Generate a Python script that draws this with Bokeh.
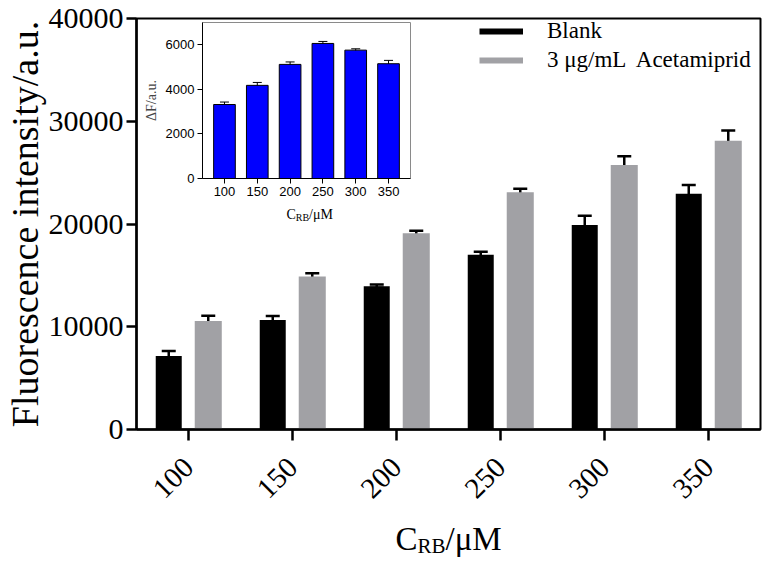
import math
from bokeh.plotting import figure
from bokeh.models import (ColumnDataSource, Range1d, FactorRange, FixedTicker, Whisker,
                          TeeHead, Legend, LegendItem, Label)
from bokeh.transform import dodge
from bokeh.layouts import column
from bokeh.embed import file_html
from bokeh.resources import INLINE

# ---------------- data ----------------
concentrations = ["100", "150", "200", "250", "300", "350"]
blank_mean = [7150, 10650, 13950, 17000, 19900, 22950]
blank_err = [480, 400, 150, 300, 900, 850]
acet_mean = [10550, 14900, 19100, 23100, 25750, 28100]
acet_err = [520, 300, 250, 320, 850, 1000]
delta_f = [3320, 4180, 5120, 6060, 5760, 5150]
delta_f_err = [110, 130, 110, 90, 60, 150]
y_ticks = [0, 10000, 20000, 30000, 40000]
inset_y_ticks = [0, 2000, 4000, 6000]
series_names = ["Blank", "3 \u03bcg/mL  Acetamiprid"]

SERIF = "Liberation Serif"
SANS = "Liberation Sans"
GREY = "#A1A1A5"

W, H = 762, 560
BL, BR = 133, 2          # left / right borders shared by all stacked figures

src = ColumnDataSource(dict(
    cat=concentrations,
    blank=blank_mean,
    blank_lo=[m - e for m, e in zip(blank_mean, blank_err)],
    blank_hi=[m + e for m, e in zip(blank_mean, blank_err)],
    acet=acet_mean,
    acet_lo=[m - e for m, e in zip(acet_mean, acet_err)],
    acet_hi=[m + e for m, e in zip(acet_mean, acet_err)],
))

# ---------------- main figure ----------------
p = figure(x_range=FactorRange(*concentrations), y_range=Range1d(0, 40000),
           width=W, height=H, output_backend="svg", toolbar_location=None,
           min_border_left=BL, min_border_right=BR, min_border_top=18, min_border_bottom=131)

p.vbar(x=dodge("cat", -0.19, range=p.x_range), top="blank", width=0.25, source=src,
       fill_color="black", line_color=None)
p.vbar(x=dodge("cat", 0.19, range=p.x_range), top="acet", width=0.26, source=src,
       fill_color=GREY, line_color=None)

for off, lo, hi in [(-0.19, "blank_lo", "blank_hi"), (0.19, "acet_lo", "acet_hi")]:
    w = Whisker(base=dodge("cat", off, range=p.x_range), lower=lo, upper=hi, source=src,
                line_color="black", line_width=2.5,
                upper_head=TeeHead(size=14, line_color="black", line_width=2.5),
                lower_head=TeeHead(size=14, line_color="black", line_width=2.5))
    p.add_layout(w)

# legend swatches: thick line glyphs (single point -> nothing drawn in the plot)
l1 = p.line(x=[concentrations[0]], y=[0], line_color="black", line_width=6)
l2 = p.line(x=[concentrations[0]], y=[0], line_color=GREY, line_width=6)
legend = Legend(items=[LegendItem(label=series_names[0], renderers=[l1]),
                       LegendItem(label=series_names[1], renderers=[l2])],
                location=(343, 356), glyph_width=44, glyph_height=24, label_height=24,
                label_standoff=24, spacing=3, padding=0, margin=0,
                border_line_color=None, background_fill_alpha=0,
                label_text_font=SERIF, label_text_font_size="23px", label_text_color="black")
p.add_layout(legend)

p.xgrid.visible = False
p.ygrid.visible = False
p.outline_line_color = "black"
p.outline_line_width = 2
p.outline_line_alpha = 1

for ax in (p.xaxis[0], p.yaxis[0]):
    ax.axis_line_width = 2.5
    ax.axis_line_color = "black"
    ax.major_tick_line_width = 2.5
    ax.major_tick_line_color = "black"
    ax.major_tick_in = 0
    ax.minor_tick_line_color = None
    ax.major_label_text_font = SERIF
    ax.major_label_text_color = "black"

p.xaxis.major_tick_out = 11
p.xaxis.major_label_text_font_size = "29px"
p.xaxis.major_label_orientation = math.pi / 4
p.xaxis.major_label_standoff = 22

p.yaxis.ticker = FixedTicker(ticks=y_ticks)
p.yaxis.major_tick_out = 10
p.yaxis.major_label_standoff = 3
p.yaxis.major_label_text_font_size = "30px"
p.yaxis.axis_label = "Fluorescence intensity/a.u."
p.yaxis.axis_label_text_font = SERIF
p.yaxis.axis_label_text_font_size = "38px"
p.yaxis.axis_label_text_font_style = "normal"
p.yaxis.axis_label_text_color = "black"
p.yaxis.axis_label_standoff = 0


def title_box(left, top, width, height, prev_bottom, parts):
    """A bare figure whose frame holds an axis title made of several text pieces."""
    f = figure(width=BL + width + BR, height=height, output_backend="svg",
               toolbar_location=None, x_axis_location=None, y_axis_location=None,
               min_border_left=BL, min_border_right=BR, min_border_top=0, min_border_bottom=0,
               margin=(top - prev_bottom, 0, 0, left - BL))
    f.border_fill_color = None
    f.background_fill_color = None
    f.outline_line_color = None
    f.xgrid.visible = False
    f.ygrid.visible = False
    for txt, x, y, fs in parts:
        f.add_layout(Label(x=x, y=y, x_units="screen", y_units="screen", text=txt,
                           text_font=SERIF, text_font_size=f"{fs}px", text_color="black",
                           text_baseline="alphabetic", text_align="left"))
    return f


# main x title "C_RB/μM"  (frame page x 385..525, y 512..562)
MT_TOP, MT_BOT = 512, 562
main_title = title_box(385, MT_TOP, 140, MT_BOT - MT_TOP, H,
                       [("C", 7, 24, 33), ("RB", 29, 17, 21), ("/\u03bcM", 57, 24, 33)])

# ---------------- inset ----------------
positions = list(range(1, len(concentrations) + 1))
isrc = ColumnDataSource(dict(
    x=positions, top=delta_f,
    lo=[m - e for m, e in zip(delta_f, delta_f_err)],
    hi=[m + e for m, e in zip(delta_f, delta_f_err)],
))

# inset frame wanted at page x 199..410, y 22..178
I_FL, I_FR, I_FT, I_FB = 199, 410, 22, 178
I_TOP, I_BOT = 19, 205
inset = figure(x_range=Range1d(positions[0] - 0.67, positions[-1] + 0.67),
               y_range=Range1d(0, 7000),
               width=BL + (I_FR - I_FL) + BR, height=I_BOT - I_TOP,
               output_backend="svg", toolbar_location=None,
               min_border_left=BL, min_border_right=BR,
               min_border_top=I_FT - I_TOP, min_border_bottom=I_BOT - I_FB,
               margin=(I_TOP - MT_BOT, 0, 0, I_FL - BL))
inset.border_fill_color = None
inset.background_fill_color = "white"
inset.vbar(x="x", top="top", width=0.66, source=isrc, fill_color="#0000FF",
           line_color="black", line_width=1)
inset.add_layout(Whisker(base="x", lower="lo", upper="hi", source=isrc,
                         line_color="black", line_width=1,
                         upper_head=TeeHead(size=9, line_color="black", line_width=1),
                         lower_head=TeeHead(size=9, line_color="black", line_width=1)))
inset.xgrid.visible = False
inset.ygrid.visible = False
inset.outline_line_color = "#8a8a8a"
inset.outline_line_width = 1
for ax in (inset.xaxis[0], inset.yaxis[0]):
    ax.axis_line_color = "black"
    ax.axis_line_width = 1
    ax.major_tick_line_color = "black"
    ax.major_tick_in = 0
    ax.major_tick_out = 5
    ax.minor_tick_line_color = None
    ax.major_label_text_font = SANS
    ax.major_label_text_font_size = "13px"
    ax.major_label_text_color = "black"
    ax.major_label_standoff = 3
inset.xaxis.ticker = FixedTicker(ticks=positions)
inset.xaxis.major_label_overrides = {pos: c for pos, c in zip(positions, concentrations)}
inset.yaxis.ticker = FixedTicker(ticks=inset_y_ticks)
inset.yaxis.axis_label = "\u0394F/a.u."
inset.yaxis.axis_label_text_font = SERIF
inset.yaxis.axis_label_text_font_size = "14px"
inset.yaxis.axis_label_text_font_style = "normal"
inset.yaxis.axis_label_standoff = 4

# inset x title "C_RB/μM"  (frame page x 270..350, y 198..226)
inset_title = title_box(270, 198, 80, 28, I_BOT,
                        [("C", 13, 12, 14), ("RB", 22.3, 9, 10), ("/\u03bcM", 35.6, 12, 14)])

layout = column(p, main_title, inset, inset_title)
open("out.html", "w").write(file_html(layout, INLINE))
